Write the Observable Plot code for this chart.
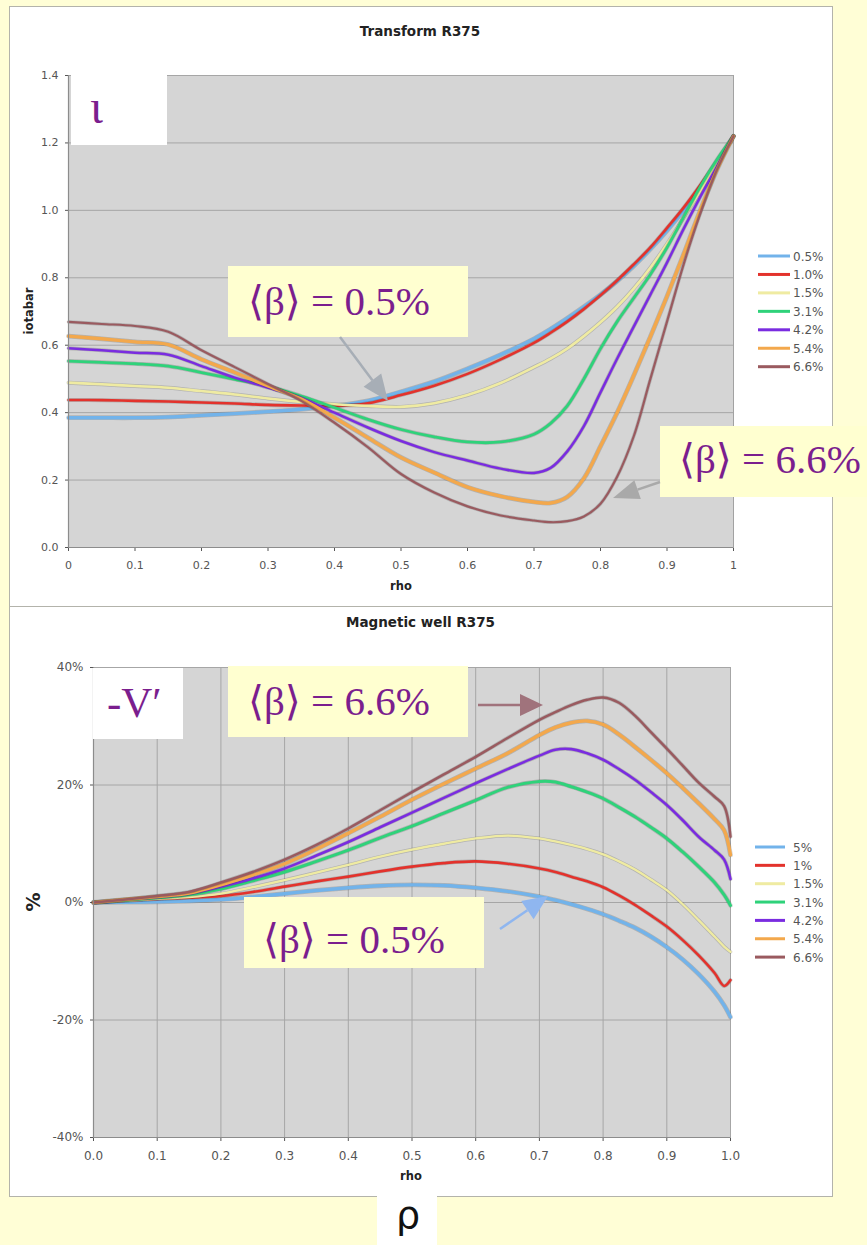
<!DOCTYPE html>
<html>
<head>
<meta charset="utf-8">
<title>Transform and magnetic well, R375</title>
<script src="https://cdn.jsdelivr.net/npm/d3@7"></script>
<script src="https://cdn.jsdelivr.net/npm/@observablehq/plot@0.6"></script>
<style>
  body { margin: 0; background: #fffed6; }
  #page { position: relative; width: 867px; height: 1245px; background: #fffed6; overflow: hidden; font-family: "DejaVu Sans", Verdana, sans-serif; }
  .panel { position: absolute; background: #ffffff; border: 1px solid #b3b3ab; box-sizing: border-box; }
  .plot { position: absolute; }
  #overlay { position: absolute; left: 0; top: 0; }
</style>
</head>
<body>
<div id="page">
  <div class="panel" style="left:9px;top:6px;width:824px;height:601px"></div>
  <div class="panel" style="left:9px;top:606px;width:824px;height:591px"></div>
</div>
<script>
// ---- series labels and colours ----
const betaTop = ["0.5%", "1.0%", "1.5%", "3.1%", "4.2%", "5.4%", "6.6%"];
const betaBottom = ["5%", "1%", "1.5%", "3.1%", "4.2%", "5.4%", "6.6%"];
const seriesColors = ["#72b3ea", "#e3322c", "#efeba2", "#2fd27a", "#7a2ce0", "#f3a84c", "#9a5a5f"];

// ---- rotational transform (iotabar) vs rho ----
const rhoTop = [0, 0.05, 0.1, 0.15, 0.2, 0.25, 0.3, 0.35, 0.4, 0.45, 0.5, 0.55, 0.6, 0.65, 0.7,
  0.725, 0.75, 0.775, 0.8, 0.825, 0.85, 0.875, 0.9, 0.925, 0.95, 0.975, 1.0];
const iota05 = [0.385, 0.385, 0.385, 0.387, 0.392, 0.397, 0.403, 0.41, 0.42, 0.435, 0.462, 0.492, 0.53, 0.572, 0.619,
  0.648, 0.68, 0.714, 0.75, 0.79, 0.835, 0.885, 0.94, 1.0, 1.065, 1.14, 1.22];
const iota10 = [0.4375, 0.437, 0.435, 0.433, 0.43, 0.427, 0.423, 0.421, 0.42, 0.428, 0.452, 0.48, 0.515, 0.558, 0.607,
  0.637, 0.67, 0.707, 0.748, 0.792, 0.84, 0.89, 0.948, 1.008, 1.075, 1.147, 1.22];
const iota15 = [0.489, 0.484, 0.479, 0.474, 0.464, 0.454, 0.442, 0.432, 0.425, 0.42, 0.417, 0.428, 0.452, 0.488, 0.535,
  0.56, 0.59, 0.627, 0.668, 0.714, 0.768, 0.83, 0.9, 0.978, 1.058, 1.14, 1.22];
const iota31 = [0.553, 0.549, 0.545, 0.538, 0.519, 0.499, 0.479, 0.449, 0.415, 0.38, 0.35, 0.328, 0.313, 0.313, 0.336,
  0.368, 0.42, 0.50, 0.59, 0.67, 0.74, 0.81, 0.89, 0.98, 1.07, 1.15, 1.22];
const iota42 = [0.591, 0.585, 0.578, 0.572, 0.538, 0.504, 0.474, 0.444, 0.40, 0.356, 0.316, 0.283, 0.258, 0.234, 0.221,
  0.236, 0.285, 0.36, 0.46, 0.56, 0.655, 0.75, 0.845, 0.945, 1.04, 1.13, 1.22];
const iota54 = [0.627, 0.619, 0.61, 0.602, 0.558, 0.519, 0.479, 0.44, 0.385, 0.326, 0.267, 0.222, 0.179, 0.152, 0.135,
  0.132, 0.15, 0.205, 0.3, 0.40, 0.51, 0.625, 0.745, 0.87, 1.0, 1.12, 1.22];
const iota66 = [0.669, 0.663, 0.657, 0.64, 0.585, 0.535, 0.485, 0.435, 0.37, 0.298, 0.218, 0.163, 0.122, 0.095, 0.08,
  0.075, 0.078, 0.092, 0.13, 0.21, 0.33, 0.50, 0.67, 0.84, 0.99, 1.12, 1.22];

// ---- magnetic well (-V', %) vs rho ----
const rhoBottom = [0, 0.05, 0.1, 0.15, 0.2, 0.25, 0.3, 0.35, 0.4, 0.45, 0.5, 0.55, 0.6, 0.65, 0.7,
  0.725, 0.75, 0.775, 0.8, 0.825, 0.85, 0.875, 0.9, 0.925, 0.95, 0.975, 0.99, 1.0];
const well05 = [0, 0.05, 0.1, 0.25, 0.5, 0.95, 1.5, 2.05, 2.5, 2.85, 3.0, 2.9, 2.5, 1.9, 1.0,
  0.4, -0.3, -1.1, -2.0, -3.1, -4.3, -5.8, -7.6, -9.7, -12.2, -15.2, -17.5, -19.5];
const well10 = [0, 0.3, 0.6, 0.8, 1.1, 1.8, 2.7, 3.6, 4.4, 5.3, 6.1, 6.7, 7.0, 6.6, 5.8,
  5.2, 4.4, 3.6, 2.6, 1.2, -0.4, -2.2, -4.1, -6.4, -9.0, -12.0, -14.2, -13.2];
const well15 = [0, 0.3, 0.6, 0.9, 1.5, 2.6, 3.8, 5.1, 6.4, 7.8, 9.0, 10.0, 10.9, 11.4, 10.9,
  10.4, 9.8, 9.1, 8.2, 7.0, 5.6, 3.9, 2.1, -0.3, -3.0, -5.8, -7.5, -8.4];
const well31 = [0, 0.4, 0.8, 1.3, 2.3, 3.7, 5.2, 7.0, 8.9, 11.0, 13.0, 15.2, 17.4, 19.6, 20.6,
  20.5, 19.7, 18.8, 17.7, 16.2, 14.6, 12.8, 10.9, 8.6, 6.1, 3.4, 1.3, -0.5];
const well42 = [0, 0.5, 0.9, 1.5, 2.7, 4.1, 5.8, 8.0, 10.3, 12.8, 15.3, 17.8, 20.3, 22.7, 25.0,
  26.0, 26.1, 25.4, 24.3, 22.7, 20.9, 18.8, 16.6, 14.0, 11.2, 8.9, 7.3, 4.0];
const well54 = [0, 0.5, 1.0, 1.6, 3.0, 4.7, 6.6, 9.1, 11.8, 14.6, 17.5, 20.2, 22.8, 25.4, 28.5,
  29.8, 30.6, 30.9, 30.3, 28.6, 26.5, 24.3, 22.0, 19.5, 16.9, 14.2, 12.3, 8.1];
const well66 = [0, 0.5, 1.1, 1.8, 3.4, 5.2, 7.3, 9.8, 12.6, 15.7, 18.8, 21.8, 24.8, 28.0, 31.1,
  32.4, 33.6, 34.5, 34.9, 34.0, 31.8, 29.0, 26.2, 23.3, 20.4, 18.0, 16.4, 11.2];

// ---- ticks ----
const topXTicks = [0, 0.1, 0.2, 0.3, 0.4, 0.5, 0.6, 0.7, 0.8, 0.9, 1];
const topXLabels = ["0", "0.1", "0.2", "0.3", "0.4", "0.5", "0.6", "0.7", "0.8", "0.9", "1"];
const topYTicks = [0, 0.2, 0.4, 0.6, 0.8, 1.0, 1.2, 1.4];
const bottomXTicks = [0, 0.1, 0.2, 0.3, 0.4, 0.5, 0.6, 0.7, 0.8, 0.9, 1.0];
const bottomYTicks = [-40, -20, 0, 20, 40];

function profileChart({rho, values, widths, xTicks, xFormat, yTicks, yFormat, yDomain, verticalGrid,
                       width, height, margin, fontSize}) {
  const rows = values.flatMap((vals, k) => rho.map((r, i) => ({rho: r, v: vals[i], k})));
  const marks = [
    Plot.frame({fill: "#d5d5d5", stroke: "#a2a2a2"}),
    Plot.ruleY(yTicks, {stroke: "#a6a6a6", strokeWidth: 1})
  ];
  if (verticalGrid) marks.push(Plot.ruleX(xTicks, {stroke: "#a6a6a6", strokeWidth: 1}));
  values.forEach((_, k) => {
    const d = rows.filter(r => r.k === k);
    // soft dark edge under each curve
    marks.push(Plot.line(d, {x: "rho", y: "v", stroke: "#2a2a2a", strokeOpacity: 0.2,
      strokeWidth: widths[k] + 1.4, curve: "catmull-rom"}));
    marks.push(Plot.line(d, {x: "rho", y: "v", stroke: seriesColors[k],
      strokeWidth: widths[k], curve: "catmull-rom"}));
  });
  marks.push(Plot.ruleX([xTicks[0]], {stroke: "#8c8c8c", strokeWidth: 1.2}));
  marks.push(Plot.ruleY([yDomain[0]], {stroke: "#8c8c8c", strokeWidth: 1.2}));
  return Plot.plot({
    width, height,
    marginLeft: margin[0], marginRight: margin[1], marginTop: margin[2], marginBottom: margin[3],
    style: {background: "transparent", fontFamily: "DejaVu Sans, Verdana, sans-serif",
            fontSize: fontSize + "px", color: "#555555", overflow: "visible"},
    x: {domain: [0, 1], ticks: xTicks, tickFormat: xFormat, tickSize: 4, tickPadding: 10, label: null},
    y: {domain: yDomain, ticks: yTicks, tickFormat: yFormat, tickSize: 3, tickPadding: 7, label: null},
    marks
  });
}

const page = document.getElementById("page");

const transformChart = profileChart({
  rho: rhoTop,
  values: [iota05, iota10, iota15, iota31, iota42, iota54, iota66],
  widths: [3.4, 2.6, 2.6, 2.8, 2.5, 3.4, 2.2],
  xTicks: topXTicks, xFormat: d => topXLabels[Math.round(d * 10)],
  yTicks: topYTicks, yFormat: d => d.toFixed(1), yDomain: [0, 1.4],
  verticalGrid: false,
  width: 823, height: 600, margin: [59, 99, 69, 59], fontSize: 11
});
transformChart.classList.add("plot");
transformChart.style.left = "9px"; transformChart.style.top = "6px";
page.appendChild(transformChart);

const wellChart = profileChart({
  rho: rhoBottom,
  values: [well05, well10, well15, well31, well42, well54, well66],
  widths: [3.4, 2.6, 2.3, 3.0, 2.6, 3.4, 2.5],
  xTicks: bottomXTicks, xFormat: d => d.toFixed(1),
  yTicks: bottomYTicks, yFormat: d => `${d}%`, yDomain: [-40, 40],
  verticalGrid: true,
  width: 823, height: 590, margin: [84, 102, 61, 59], fontSize: 12
});
wellChart.classList.add("plot");
wellChart.style.left = "9px"; wellChart.style.top = "606px";
page.appendChild(wellChart);

// ---- titles, axis names, legends and callouts ----
const svg = d3.select(page).append("svg").attr("id", "overlay")
  .attr("width", 867).attr("height", 1245);

const sans = "DejaVu Sans, Verdana, sans-serif";
const serif = "Liberation Serif, DejaVu Serif, Times New Roman, serif";
const purple = "#7b1e8e";

function label(x, y, text, size, opts = {}) {
  const t = svg.append("text").attr("x", x).attr("y", y).text(text)
    .attr("font-family", opts.family || sans).attr("font-size", size)
    .attr("font-weight", opts.weight || "normal").attr("fill", opts.fill || "#222")
    .attr("text-anchor", opts.anchor || "start");
  if (opts.rotate) t.attr("transform", `rotate(${opts.rotate},${x},${y})`);
  return t;
}

label(420, 36, "Transform R375", 13.5, {weight: "bold", anchor: "middle"});
label(420.5, 627, "Magnetic well R375", 13.5, {weight: "bold", anchor: "middle"});
label(401, 590, "rho", 11.5, {weight: "bold", anchor: "middle"});
label(411, 1180, "rho", 11.5, {weight: "bold", anchor: "middle"});
label(33, 311, "iotabar", 11.5, {weight: "bold", anchor: "middle", rotate: -90});
label(40, 902, "%", 19, {weight: "bold", anchor: "middle", rotate: -90});

function legend(names, x0, x1, xt, y0, step) {
  names.forEach((name, k) => {
    const y = y0 + k * step;
    svg.append("line").attr("x1", x0).attr("x2", x1).attr("y1", y).attr("y2", y)
      .attr("stroke", seriesColors[k]).attr("stroke-width", 3);
    label(xt, y + 4.5, name, 12, {fill: "#555"});
  });
}
legend(betaTop, 758, 790, 793, 256, 18.45);
legend(betaBottom, 755, 785, 793, 847, 18.35);

function box(x, y, w, h, fill) {
  svg.append("rect").attr("x", x).attr("y", y).attr("width", w).attr("height", h).attr("fill", fill);
}
function arrow(x1, y1, x2, y2, color, headLen, headWidth) {
  const a = Math.atan2(y2 - y1, x2 - x1);
  const bx = x2 - headLen * Math.cos(a), by = y2 - headLen * Math.sin(a);
  svg.append("line").attr("x1", x1).attr("y1", y1).attr("x2", bx).attr("y2", by)
    .attr("stroke", color).attr("stroke-width", 2.5);
  const nx = -Math.sin(a) * headWidth / 2, ny = Math.cos(a) * headWidth / 2;
  svg.append("polygon")
    .attr("points", `${x2},${y2} ${bx + nx},${by + ny} ${bx - nx},${by - ny}`)
    .attr("fill", color);
}

const note = "#ffffd0";
const noteSize = 41;

// upper chart
box(71, 74, 96, 71, "#ffffff");
label(90, 123, "ι", 48, {family: serif, fill: purple});
box(228, 266, 240, 71, note);
label(248, 315, "⟨β⟩ = 0.5%", noteSize, {family: serif, fill: purple});
arrow(340, 337, 388, 401, "#a7aeb6", 26, 22);
box(660, 426, 207, 71, note);
label(679, 473, "⟨β⟩ = 6.6%", noteSize, {family: serif, fill: purple});
arrow(660, 482, 613, 498, "#a9a9a9", 26, 20);

// lower chart
box(93, 668, 90, 71, "#ffffff");
label(107, 717, "-V′", 43, {family: serif, fill: purple});
box(228, 666, 240, 71, note);
label(248, 715, "⟨β⟩ = 6.6%", noteSize, {family: serif, fill: purple});
arrow(478, 705, 543, 705, "#a0737c", 23, 22);
box(244, 897, 240, 71, note);
label(263, 953, "⟨β⟩ = 0.5%", noteSize, {family: serif, fill: purple});
arrow(500, 929, 548, 896, "#8fb6ef", 25, 22);

// radial coordinate symbol below the figure
box(377, 1187, 60, 58, "#ffffff");
label(408, 1228, "ρ", 38, {family: sans, fill: "#111", anchor: "middle"});
</script>
</body>
</html>
